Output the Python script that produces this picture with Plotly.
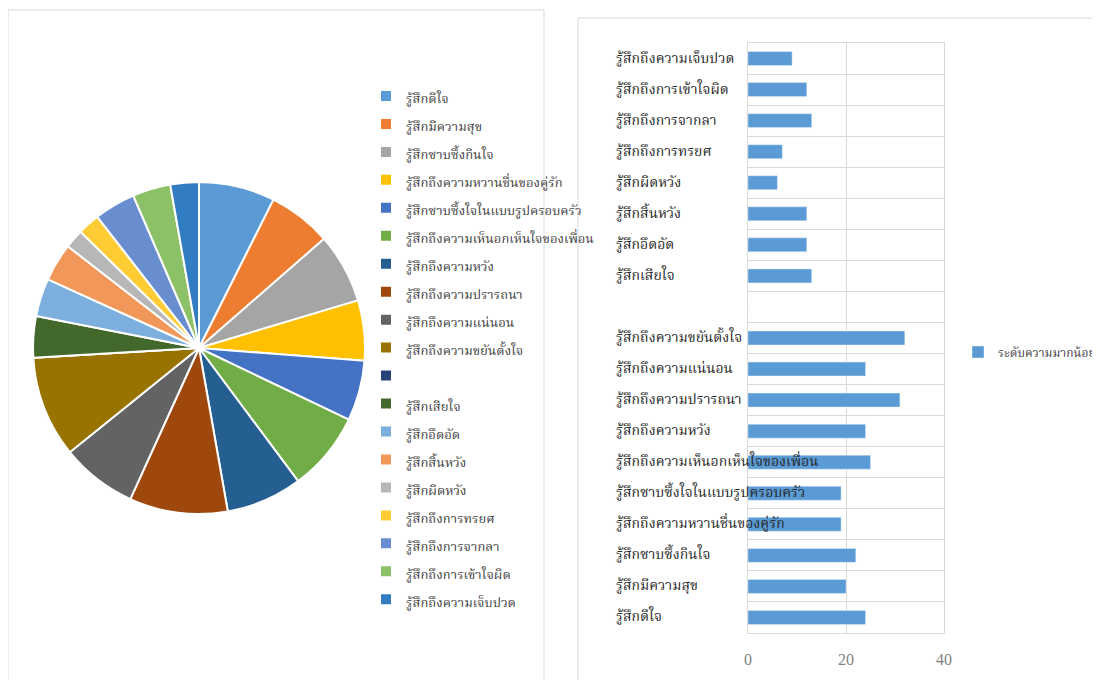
import plotly.graph_objects as go

# Categories (bottom-to-top order of the bar chart = pie order, clockwise from 12 o'clock)
categories = [
    "รู้สึกดีใจ",
    "รู้สึกมีความสุข",
    "รู้สึกซาบซึ้งกินใจ",
    "รู้สึกถึงความหวานชื่นของคู่รัก",
    "รู้สึกซาบซึ้งใจในแบบรูปครอบครัว",
    "รู้สึกถึงความเห็นอกเห็นใจของเพื่อน",
    "รู้สึกถึงความหวัง",
    "รู้สึกถึงความปรารถนา",
    "รู้สึกถึงความแน่นอน",
    "รู้สึกถึงความขยันตั้งใจ",
    " ",
    "รู้สึกเสียใจ",
    "รู้สึกอึดอัด",
    "รู้สึกสิ้นหวัง",
    "รู้สึกผิดหวัง",
    "รู้สึกถึงการทรยศ",
    "รู้สึกถึงการจากลา",
    "รู้สึกถึงการเข้าใจผิด",
    "รู้สึกถึงความเจ็บปวด",
]
values = [24, 20, 22, 19, 19, 25, 24, 31, 24, 32, 0, 13, 12, 12, 6, 7, 13, 12, 9]
series_name = "ระดับความมากน้อย"
x_ticks = [0, 20, 40]

slice_colors = [
    "#5B9BD5", "#ED7D31", "#A5A5A5", "#FFC000", "#4472C4", "#70AD47",
    "#255E91", "#9E480E", "#636363", "#997300", "#264478", "#43682B",
    "#7CAFDD", "#F1975A", "#B7B7B7", "#FFCD33", "#698ED0", "#8CC168",
    "#327DC2",
]

W, H = 1100, 680
OFF = 8  # page body margin
def px(x):
    return (x - OFF) / W
def py(y):
    return 1 - (y - OFF) / H

THAI = "Noto Serif Thai, Noto Sans Thai, Norasi, Tlwg Typo, Garuda, Loma, Liberation Serif, serif"

fig = go.Figure()

fig.add_trace(go.Pie(
    labels=[f'<span style="font-size:13px">{c}</span>' for c in categories],
    values=values,
    sort=False,
    direction="clockwise",
    rotation=0,
    textinfo="none",
    marker=dict(colors=slice_colors, line=dict(color="white", width=2)),
    domain=dict(x=[px(33), px(365)], y=[py(514), py(182)]),
    legend="legend",
    hoverinfo="label+value",
))

fig.add_trace(go.Bar(
    y=categories,
    x=values,
    orientation="h",
    name=series_name,
    marker=dict(color="#5B9BD5"),
    width=0.45,
    legend="legend2",
    xaxis="x",
    yaxis="y",
))

# left-aligned category labels (as in the original chart)
for c in categories:
    fig.add_annotation(
        x=px(614), xref="paper", xanchor="left",
        y=c, yref="y", yanchor="middle",
        text=c, showarrow=False,
        font=dict(family=THAI, size=14, color="#262626"),
    )

fig.update_layout(
    width=W, height=H,
    margin=dict(l=0, r=0, t=0, b=0, autoexpand=False),
    paper_bgcolor="white",
    plot_bgcolor="white",
    font=dict(family=THAI, color="#404040"),
    xaxis=dict(
        domain=[px(748), px(944)],
        range=[0, 40],
        tickvals=x_ticks,
        showgrid=True, gridcolor="#D9D9D9", gridwidth=1,
        zeroline=False,
        showline=True, linecolor="#D9D9D9", mirror=True,
        tickfont=dict(family="Liberation Serif, serif", size=16, color="#7F7F7F"),
        ticklabelstandoff=12,
        fixedrange=True,
    ),
    yaxis=dict(
        domain=[py(633), py(43)],
        type="category",
        categoryorder="array",
        categoryarray=categories,
        range=[-0.5, len(categories) - 0.5],
        showticklabels=False,
        showgrid=True, gridcolor="#D9D9D9", gridwidth=1,
        tickson="boundaries",
        ticks="",
        showline=True, linecolor="#D9D9D9", mirror=True,
        fixedrange=True,
    ),
    legend=dict(
        x=px(366), y=py(77), xanchor="left", yanchor="top",
        font=dict(family=THAI, size=19.2, color="#404040"),
        bgcolor="rgba(0,0,0,0)",
        itemclick=False, itemdoubleclick=False,
    ),
    legend2=dict(
        x=px(958), y=py(352), xanchor="left", yanchor="middle",
        font=dict(family=THAI, size=12, color="#404040"),
        bgcolor="rgba(0,0,0,0)",
    ),
    shapes=[
        dict(type="rect", xref="paper", yref="paper",
             x0=px(8), x1=px(544), y0=-0.05, y1=py(10),
             line=dict(color="#D9D9D9", width=1), layer="below"),
        dict(type="rect", xref="paper", yref="paper",
             x0=px(578), x1=1.05, y0=-0.05, y1=py(18),
             line=dict(color="#D9D9D9", width=1), layer="below"),
    ],
)

fig.write_html("out.html")
